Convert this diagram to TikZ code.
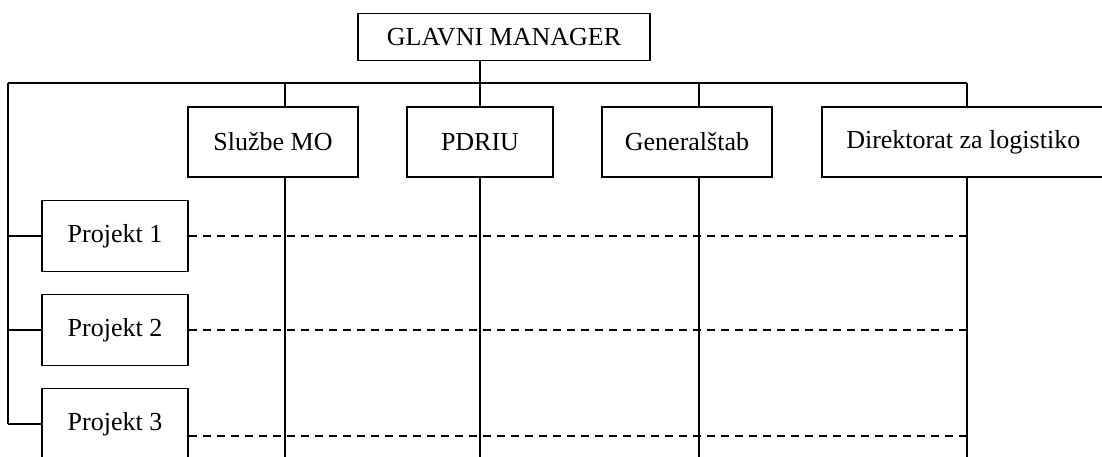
\documentclass[tikz,border=0pt]{standalone}
\usepackage{fontspec}
\setmainfont{Liberation Serif}
\usetikzlibrary{calc}
\tikzset{
  box/.style={draw, line width=1.5pt, rectangle, inner sep=0pt, font=\fontsize{26}{30}\selectfont},
  conn/.style={line width=1.5pt},
  dconn/.style={line width=1.5pt, dash pattern=on 8pt off 6pt}
}
\begin{document}
\begin{tikzpicture}[x=1pt,y=-1pt]
\useasboundingbox (0,0) rectangle (1102,457);
% nodes
\node[box, minimum width=292, minimum height=47] (gm) at (504,37) {GLAVNI MANAGER};
\node[box, minimum width=170, minimum height=70] (d1) at (273,142) {Službe MO};
\node[box, minimum width=146, minimum height=70] (d2) at (480,142) {PDRIU};
\node[box, minimum width=170, minimum height=70] (d3) at (687,142) {Generalštab};
\node[box, anchor=west, minimum width=283, minimum height=70] (d4) at (821,142) {Direktorat za logistiko};
\node[box, minimum width=146, minimum height=71] (p1) at (115,236) {Projekt 1};
\node[box, minimum width=146, minimum height=71] (p2) at (115,330) {Projekt 2};
\node[box, minimum width=146, minimum height=71] (p3) at (115,424) {Projekt 3};
% coordinates
\coordinate (busL) at (8,83);
\coordinate (c1) at (285,83);
\coordinate (c2) at (480,83);
\coordinate (c3) at (699,83);
\coordinate (c4) at (967,83);
\coordinate (bot) at (0,460);
% bus
\draw[conn] (busL) -- (c4);
\draw[conn] (c2 |- gm.south) -- (c2);
\foreach \c/\d in {c1/d1,c2/d2,c3/d3,c4/d4}{
  \draw[conn] (\c) -- (\c |- \d.north);
  \draw[conn] (\c |- \d.south) -- (\c |- bot);
}
% left spine
\draw[conn] (busL) -- (busL |- p3.west);
\foreach \p in {p1,p2,p3}{
  \draw[conn] (busL |- \p.west) -- (\p.west);
}
% dashed
\draw[dconn] (p1.east) -- (p1.east -| c4);
\draw[dconn] (p2.east) -- (p2.east -| c4);
\draw[dconn] ($(p3.east)+(0,12)$) -- ($(p3.east -| c4)+(0,12)$);
\end{tikzpicture}
\end{document}
